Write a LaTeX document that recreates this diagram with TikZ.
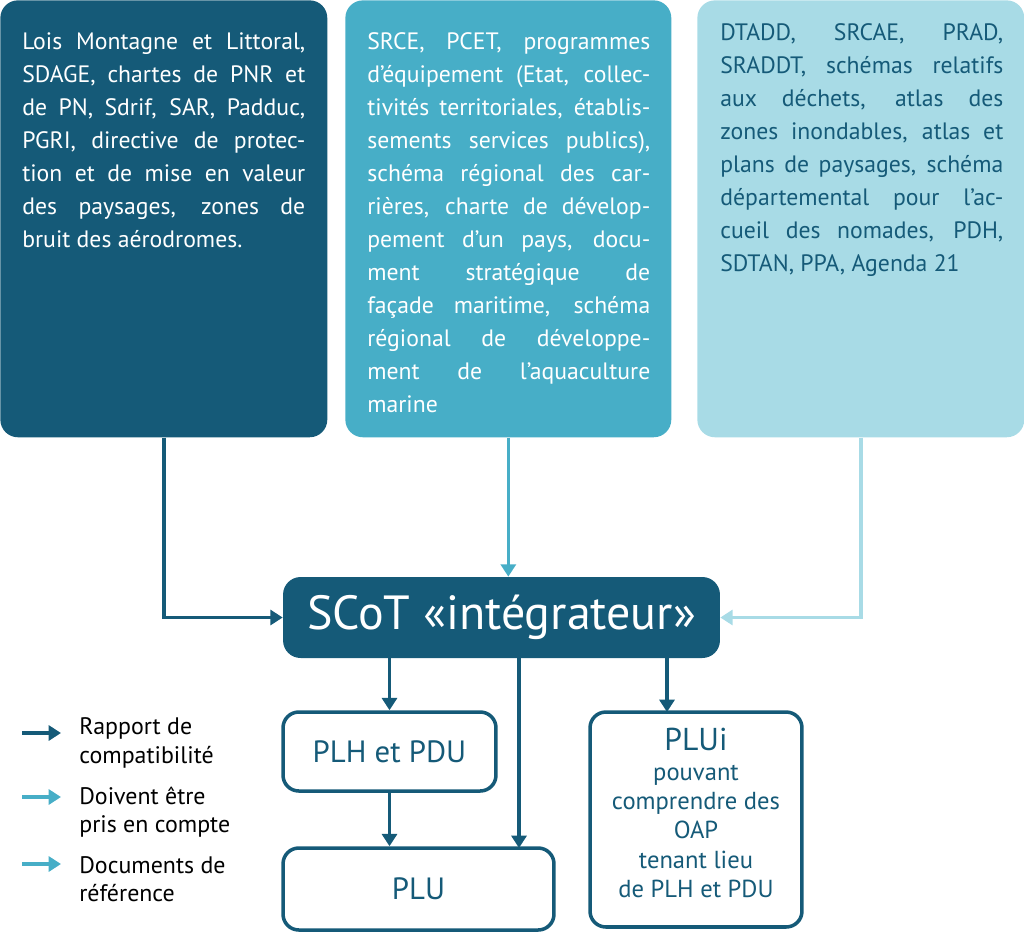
\documentclass[tikz,border=0pt]{standalone}
\usepackage{fontspec}
\setmainfont{PT Sans}
\usepackage{xcolor}
\usetikzlibrary{arrows.meta,positioning}
\definecolor{scotdark}{HTML}{155A78}
\definecolor{scotmid}{HTML}{47AEC7}
\definecolor{scotlight}{HTML}{A8DBE6}

\begin{document}
\begin{tikzpicture}[x=0.02cm,y=-0.02cm,>={Triangle[length=7pt,width=8.5pt]},
    topbox/.style={rounded corners=10pt,anchor=north west,minimum height=8.74cm,inner sep=0pt},
    toptext/.style={anchor=north west,inner sep=0pt,text width=5.66cm,align=justify,
      font=\fontsize{13.5}{18.8}\selectfont},
    outbox/.style={draw=scotdark,line width=2pt,rounded corners=9pt,fill=white,text=scotdark,inner sep=0pt},
    link/.style={line width=2pt,->},
    legtext/.style={anchor=west,align=left,inner sep=0pt,font=\fontsize{13.6}{16.2}\selectfont}]
    \useasboundingbox (0,0) rectangle (1024,934);

    % sources
    \node[topbox,fill=scotdark,minimum width=6.54cm] (lois) at (0,0) {};
    \node[topbox,fill=scotmid,minimum width=6.52cm] (prog) at (345,0) {};
    \node[topbox,fill=scotlight,minimum width=6.54cm] (dtadd) at (697,0) {};

    \node[toptext,text=white] (loistext) at (22,32) {Lois Montagne et Littoral,\linebreak
      SDAGE, chartes de PNR et\linebreak de PN, Sdrif, SAR, Padduc,\linebreak
      PGRI, directive de protec-\linebreak tion et de mise en valeur\linebreak
      des paysages, zones de\linebreak bruit des aérodromes.};
    \node[toptext,text=white] (progtext) at (367,32) {SRCE, PCET, programmes\linebreak
      d’équipement (Etat, collec-\linebreak tivités territoriales, établis-\linebreak
      sements services publics),\linebreak schéma régional des car-\linebreak
      rières, charte de dévelop-\linebreak pement d’un pays, docu-\linebreak
      ment stratégique de\linebreak façade maritime, schéma\linebreak
      régional de développe-\linebreak ment de l’aquaculture\linebreak marine};
    \node[toptext,text=scotdark] (dtaddtext) at (720,23) {DTADD, SRCAE, PRAD,\linebreak
      SRADDT, schémas relatifs\linebreak aux déchets, atlas des\linebreak
      zones inondables, atlas et\linebreak plans de paysages, schéma\linebreak
      départemental pour l’ac-\linebreak cueil des nomades, PDH,\linebreak
      SDTAN, PPA, Agenda 21};

    % SCoT et documents
    \node[fill=scotdark,rounded corners=10pt,minimum width=8.74cm,minimum height=1.62cm,
      text=white,font=\fontsize{27.3}{30}\selectfont] (scot) at (501.5,617.5) {SCoT «intégrateur»};
    \node[outbox,minimum width=4.26cm,minimum height=1.58cm,font=\fontsize{17.5}{20}\selectfont]
      (plh) at (389.5,751.5) {PLH et PDU};
    \node[outbox,minimum width=5.42cm,minimum height=1.64cm,font=\fontsize{17.5}{20}\selectfont]
      (plu) at (418.5,889) {PLU};
    \node[outbox,minimum width=4.24cm,minimum height=4.3cm,inner sep=0pt,align=center,
      font=\fontsize{14}{16.7}\selectfont] (plui) at (696,819.5) {};
    \node[align=center,text=scotdark,font=\fontsize{14}{16.7}\selectfont] (pluitext) at (696,813)
      {{\fontsize{18}{14}\selectfont PLUi}\\pouvant\\comprendre des\\OAP\\tenant lieu\\de PLH et PDU};

    \coordinate (pluin) at (519,848);
    \coordinate (pluiin) at (667,712);

    \draw[link,scotdark] (lois.south) |- (scot.west);
    \draw[link,scotmid] (prog.south) -- (prog.south |- scot.north);
    \draw[link,scotlight] (dtadd.south) |- (scot.east);
    \draw[link,scotdark] (plh.north |- scot.south) -- (plh.north);
    \draw[link,scotdark] (pluin |- scot.south) -- (pluin);
    \draw[link,scotdark] (pluiin |- scot.south) -- (pluiin);
    \draw[link,scotdark] (plh.south) -- (plh.south |- plu.north);

    % legende
    \coordinate (leg1a) at (22,733); \coordinate (leg1b) at (61,733);
    \coordinate (leg2a) at (22,797); \coordinate (leg2b) at (61,797);
    \coordinate (leg3a) at (22,864); \coordinate (leg3b) at (61,864);
    \draw[link,scotdark] (leg1a) -- (leg1b);
    \draw[link,scotmid] (leg2a) -- (leg2b);
    \draw[link,scotmid] (leg3a) -- (leg3b);
    \node[legtext] (leg1) at (79,743) {Rapport de\\compatibilité};
    \node[legtext] (leg2) at (79,812) {Doivent être\\pris en compte};
    \node[legtext] (leg3) at (79,879) {Documents de\\référence};
\end{tikzpicture}
\end{document}
